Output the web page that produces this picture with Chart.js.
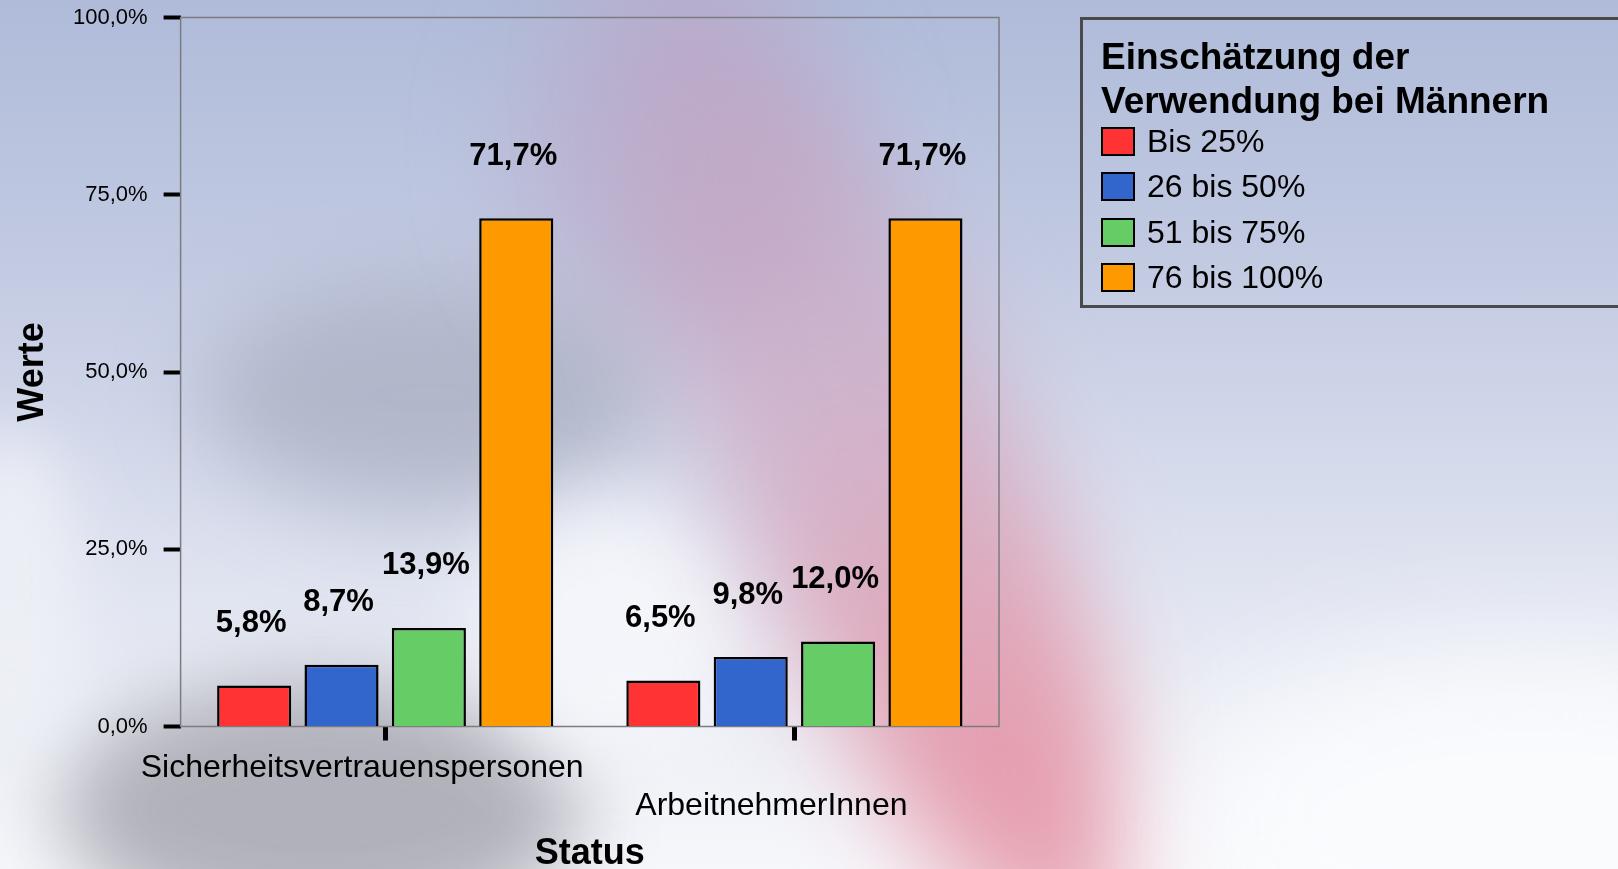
<!DOCTYPE html>
<html>
<head>
<meta charset="utf-8">
<script src="https://cdn.jsdelivr.net/npm/chart.js@4"></script>
<style>
  html, body {
    margin: 0;
    width: 1618px;
    height: 869px;
    overflow: hidden;
  }
  body {
    position: relative;
    font-family: "Liberation Sans", Arial, sans-serif;
    background: linear-gradient(180deg, #afbbd9 0%, #c2cae2 30%, #d6dbec 55%, #eaedf5 80%, #f6f7fb 100%);
  }
  .blob {
    position: absolute;
    border-radius: 50%;
  }
  #graph {
    position: absolute;
    left: 0;
    top: 0;
  }
  #legend {
    position: absolute;
    left: 1080px;
    top: 17px;
    width: 640px;
    height: 291px;
    box-sizing: border-box;
    border: 3px solid #4a4a4a;
    padding: 15px 0 0 18px;
  }
  #legend .title {
    font-weight: bold;
    font-size: 37px;
    line-height: 44px;
    color: #000;
  }
  #legend ul {
    list-style: none;
    margin: -4px 0 0 0;
    padding: 0;
  }
  #legend li {
    height: 45.3px;
    display: flex;
    align-items: center;
    font-size: 32px;
    color: #000;
  }
  #legend .box {
    width: 34px;
    height: 29px;
    box-sizing: border-box;
    border: 2.5px solid #000;
    margin-right: 12px;
  }
</style>
</head>
<body>
<div class="blob" style="left:200px;top:280px;width:460px;height:230px;background:#a8aec0;opacity:.75;filter:blur(45px)"></div>
<div class="blob" style="left:60px;top:680px;width:520px;height:260px;background:#a6a6b0;opacity:.85;filter:blur(40px)"></div>
<div class="blob" style="left:-60px;top:430px;width:140px;height:320px;background:#eef0f6;opacity:.9;filter:blur(30px)"></div>
<div class="blob" style="left:480px;top:500px;width:260px;height:260px;background:#f6f7fb;opacity:.9;filter:blur(40px)"></div>
<div class="blob" style="left:520px;top:-40px;width:320px;height:380px;background:#b8a6c6;opacity:.55;filter:blur(55px)"></div>
<div class="blob" style="left:730px;top:-60px;width:290px;height:1060px;transform:rotate(-24deg);background:linear-gradient(180deg, rgba(190,160,196,0.45) 0%, rgba(208,162,188,0.65) 45%, rgba(228,150,168,0.92) 80%, rgba(232,160,176,0.9) 100%);filter:blur(50px)"></div>
<div class="blob" style="left:1180px;top:650px;width:700px;height:360px;background:#fbfcfe;opacity:.9;filter:blur(60px)"></div>
<canvas id="graph" width="1618" height="869"></canvas>
<div id="legend"></div>
<script>
const categories = ["Sicherheitsvertrauenspersonen", ["", "ArbeitnehmerInnen"]]
const seriesNames = ["Bis 25%", "26 bis 50%", "51 bis 75%", "76 bis 100%"]
const bis25 = [5.8, 6.5]
const bis50 = [8.7, 9.8]
const bis75 = [13.9, 12.0]
const bis100 = [71.7, 71.7]
const yTicks = [0, 25, 50, 75, 100]
const colors = ["#ff3333", "#3366cc", "#66cc66", "#ff9900"]

const legendTitle = ["Einschätzung der", "Verwendung bei Männern"]

const fmt = v => v.toFixed(1).replace(".", ",") + "%"

const canva = document.getElementById("graph")
const ctx = canva.getContext("2d")

const valueLabels = {
  id: "valueLabels",
  afterDatasetsDraw(chart) {
    const c = chart.ctx
    c.save()
    c.font = "bold 31px 'Liberation Sans', Arial, sans-serif"
    c.fillStyle = "#000"
    c.textAlign = "center"
    c.textBaseline = "middle"
    chart.data.datasets.forEach((ds, i) => {
      chart.getDatasetMeta(i).data.forEach((bar, j) => {
        c.fillText(fmt(ds.data[j]), bar.x - 3, bar.y - 62)
      })
    })
    c.restore()
  }
}

const frame = {
  id: "frame",
  beforeDatasetsDraw(chart) {
    const { left, top, width, height } = chart.chartArea
    const c = chart.ctx
    c.save()
    c.strokeStyle = "#7c7c80"
    c.lineWidth = 1.5
    c.strokeRect(left, top, width, height)
    c.restore()
  }
}

const datasets = [bis25, bis50, bis75, bis100].map((values, i) => ({
  label: seriesNames[i],
  data: values,
  backgroundColor: colors[i],
  borderColor: "#000",
  borderWidth: 2.5,
  categoryPercentage: 0.854,
  barPercentage: 0.848
}))

const chart = new Chart(ctx, {
  type: "bar",
  data: {
    labels: categories,
    datasets: datasets
  },
  plugins: [frame, valueLabels],
  options: {
    responsive: false,
    animation: false,
    layout: {
      padding: { left: 15, right: 619, top: 17.5, bottom: 0 }
    },
    plugins: {
      legend: { display: false },
      tooltip: { enabled: false }
    },
    scales: {
      x: {
        offset: true,
        afterFit: axis => { axis.height = 142.5 },
        border: { display: false },
        grid: {
          offset: false,
          drawOnChartArea: false,
          drawTicks: true,
          tickLength: 14,
          tickWidth: 5,
          tickColor: "#000"
        },
        ticks: {
          color: "#000",
          padding: 8.5,
          labelOffset: -23,
          maxRotation: 0,
          autoSkip: false,
          font: { family: "'Liberation Sans', Arial, sans-serif", size: 32, lineHeight: 1.2 }
        },
        title: {
          display: true,
          text: "Status",
          color: "#000",
          padding: 0,
          font: { family: "'Liberation Sans', Arial, sans-serif", size: 36, weight: "bold", lineHeight: 0.85 }
        }
      },
      y: {
        min: 0,
        max: 100,
        afterFit: axis => {
          axis.width = 165.6
          axis.paddingTop = 8
        },
        afterBuildTicks: axis => { axis.ticks = yTicks.map(v => ({ value: v })) },
        border: { display: false },
        grid: {
          drawOnChartArea: false,
          drawTicks: true,
          tickLength: 17,
          tickWidth: 4,
          tickColor: "#000"
        },
        ticks: {
          color: "#000",
          padding: 16,
          callback: v => fmt(v),
          font: { family: "'Liberation Sans', Arial, sans-serif", size: 22 }
        },
        title: {
          display: true,
          text: "Werte",
          color: "#000",
          padding: 0,
          font: { family: "'Liberation Sans', Arial, sans-serif", size: 36, weight: "bold", lineHeight: 1 }
        }
      }
    }
  }
})

// legend built from the chart's datasets
const legend = document.getElementById("legend")
const title = document.createElement("div")
title.className = "title"
title.innerHTML = legendTitle.join("<br>")
legend.appendChild(title)
const list = document.createElement("ul")
chart.data.datasets.forEach(ds => {
  const li = document.createElement("li")
  const box = document.createElement("span")
  box.className = "box"
  box.style.background = ds.backgroundColor
  li.appendChild(box)
  li.appendChild(document.createTextNode(ds.label))
  list.appendChild(li)
})
legend.appendChild(list)
</script>
</body>
</html>
